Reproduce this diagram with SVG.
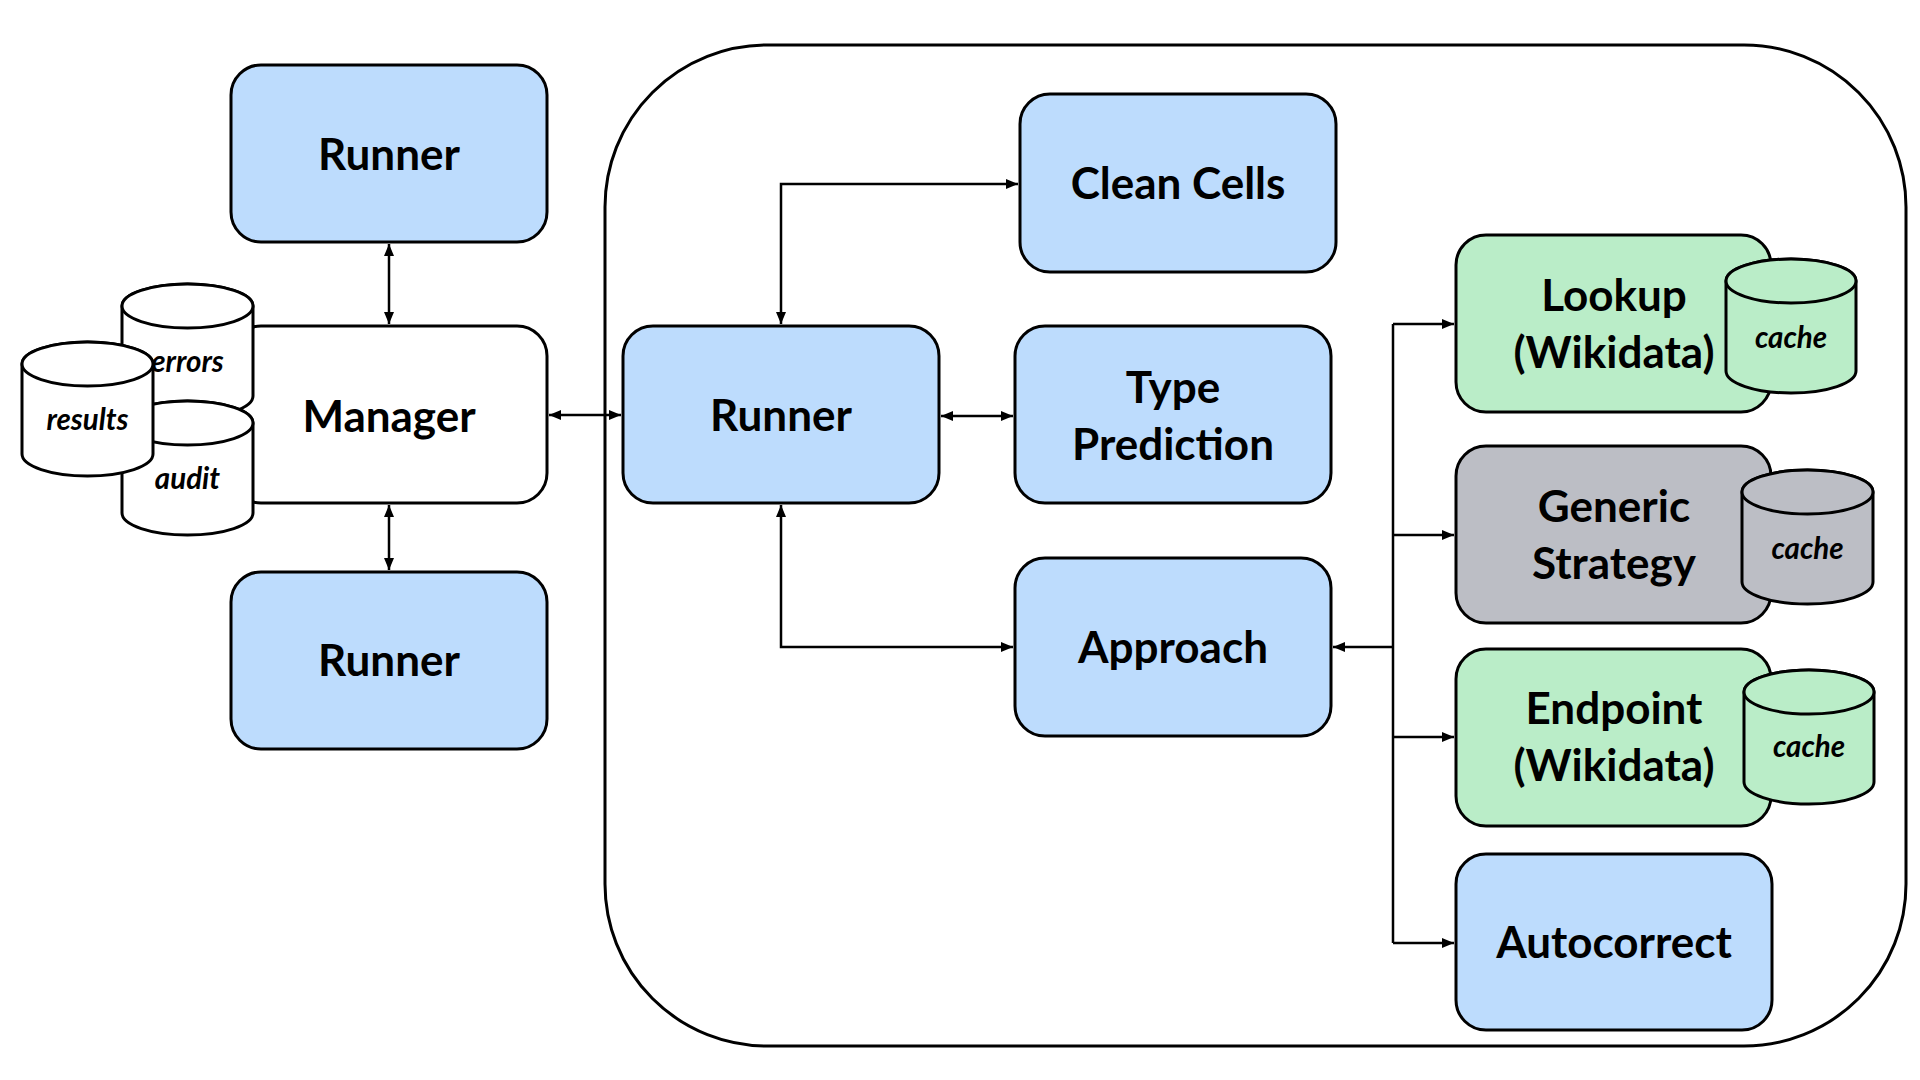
<svg xmlns="http://www.w3.org/2000/svg" width="1920" height="1080" viewBox="0 0 1920 1080">
<defs>
<marker id="ah" markerUnits="userSpaceOnUse" markerWidth="13" markerHeight="11" refX="12" refY="5" orient="auto-start-reverse">
<path d="M0,0 L12,5 L0,10 Z" fill="#000"/>
</marker>
<style>
.box{stroke:#000;stroke-width:3}
.blue{fill:#BDDCFD}
.green{fill:#BAEDC8}
.gray{fill:#BCBEC5}
.white{fill:#FFFFFF}
.lbl{font-family:Lato,"Liberation Sans",sans-serif;font-weight:700;font-size:44px;fill:#000;text-anchor:middle}
.cyl{font-family:Lato,"Liberation Sans",sans-serif;font-weight:700;font-style:italic;font-size:29.5px;fill:#000;text-anchor:middle}
.con{fill:none;stroke:#000;stroke-width:2.5}
.both{marker-start:url(#ah);marker-end:url(#ah)}
.end{marker-end:url(#ah)}
</style>
</defs>
<rect width="1920" height="1080" fill="#FFFFFF"/>

<g id="container">
<rect x="605" y="45" width="1301" height="1001" rx="162" ry="162" fill="none" stroke="#000" stroke-width="3"/>
</g>

<g id="connectors">
<path class="con both" d="M389,244 L389,324"/>
<path class="con both" d="M389,505 L389,570"/>
<path class="con both" d="M549,415 L621,415"/>
<path class="con both" d="M781,324 L781,184 L1018,184"/>
<path class="con both" d="M941,416 L1013,416"/>
<path class="con both" d="M781,505 L781,647 L1013,647"/>
<path class="con" d="M1393,324 L1393,943"/>
<path class="con end" d="M1393,647 L1333,647"/>
<path class="con end" d="M1393,324 L1454,324"/>
<path class="con end" d="M1393,535 L1454,535"/>
<path class="con end" d="M1393,737 L1454,737"/>
<path class="con end" d="M1393,943 L1454,943"/>
</g>

<g id="runner-top">
<rect class="box blue" x="231" y="65" width="316" height="177" rx="30"/>
<text class="lbl" x="389" y="170">Runner</text>
</g>

<g id="manager">
<rect class="box white" x="231" y="326" width="316" height="177" rx="30"/>
<text class="lbl" x="389" y="432">Manager</text>
</g>

<g id="db-errors">
<path class="box white" d="M122,306 L122,396 A65.5,22 0 0 0 253,396 L253,306 A65.5,22 0 0 0 122,306 Z"/>
<ellipse class="box white" cx="187.5" cy="306" rx="65.5" ry="22"/>
<text class="cyl" x="187.5" y="372">errors</text>
</g>

<g id="db-audit">
<path class="box white" d="M122,423 L122,513 A65.5,22 0 0 0 253,513 L253,423 A65.5,22 0 0 0 122,423 Z"/>
<ellipse class="box white" cx="187.5" cy="423" rx="65.5" ry="22"/>
<text class="cyl" x="187.5" y="489">audit</text>
</g>

<g id="db-results">
<path class="box white" d="M22,364 L22,454 A65.5,22 0 0 0 153,454 L153,364 A65.5,22 0 0 0 22,364 Z"/>
<ellipse class="box white" cx="87.5" cy="364" rx="65.5" ry="22"/>
<text class="cyl" x="87.5" y="430">results</text>
</g>

<g id="runner-bottom">
<rect class="box blue" x="231" y="572" width="316" height="177" rx="30"/>
<text class="lbl" x="389" y="676">Runner</text>
</g>

<g id="runner-center">
<rect class="box blue" x="623" y="326" width="316" height="177" rx="30"/>
<text class="lbl" x="781" y="431">Runner</text>
</g>

<g id="clean-cells">
<rect class="box blue" x="1020" y="94" width="316" height="178" rx="30"/>
<text class="lbl" x="1178" y="199">Clean Cells</text>
</g>

<g id="type-prediction">
<rect class="box blue" x="1015" y="326" width="316" height="177" rx="30"/>
<text class="lbl" x="1173" y="403">Type</text>
<text class="lbl" x="1173" y="460">Prediction</text>
</g>

<g id="approach">
<rect class="box blue" x="1015" y="558" width="316" height="178" rx="30"/>
<text class="lbl" x="1173" y="663">Approach</text>
</g>

<g id="lookup">
<rect class="box green" x="1456" y="235" width="315" height="177" rx="30"/>
<text class="lbl" x="1614" y="311">Lookup</text>
<text class="lbl" x="1614" y="368">(Wikidata)</text>
<path class="box green" d="M1726,281 L1726,371 A65,22 0 0 0 1856,371 L1856,281 A65,22 0 0 0 1726,281 Z"/>
<ellipse class="box green" cx="1791" cy="281" rx="65" ry="22"/>
<text class="cyl" x="1791" y="348">cache</text>
</g>

<g id="generic-strategy">
<rect class="box gray" x="1456" y="446" width="315" height="177" rx="30"/>
<text class="lbl" x="1614" y="522">Generic</text>
<text class="lbl" x="1614" y="579">Strategy</text>
<path class="box gray" d="M1742,492 L1742,582 A65.5,22 0 0 0 1873,582 L1873,492 A65.5,22 0 0 0 1742,492 Z"/>
<ellipse class="box gray" cx="1807.5" cy="492" rx="65.5" ry="22"/>
<text class="cyl" x="1807.5" y="559">cache</text>
</g>

<g id="endpoint">
<rect class="box green" x="1456" y="649" width="315" height="177" rx="30"/>
<text class="lbl" x="1614" y="724">Endpoint</text>
<text class="lbl" x="1614" y="781">(Wikidata)</text>
<path class="box green" d="M1744,692 L1744,782 A65,22 0 0 0 1874,782 L1874,692 A65,22 0 0 0 1744,692 Z"/>
<ellipse class="box green" cx="1809" cy="692" rx="65" ry="22"/>
<text class="cyl" x="1809" y="757">cache</text>
</g>

<g id="autocorrect">
<rect class="box blue" x="1456" y="854" width="316" height="176" rx="30"/>
<text class="lbl" x="1614" y="958">Autocorrect</text>
</g>
</svg>
